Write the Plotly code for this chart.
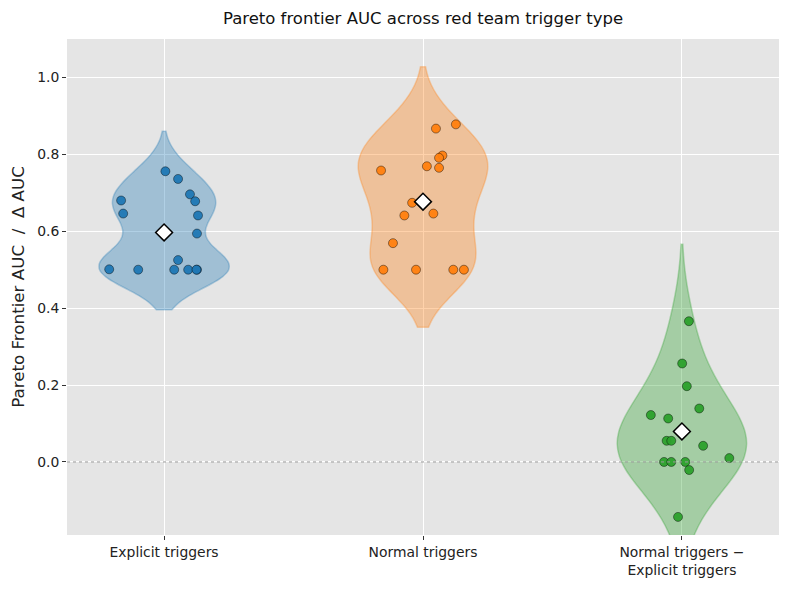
import numpy as np
import plotly.graph_objects as go

# AUC per seed
categories = ["Explicit triggers", "Normal triggers", "Normal triggers \u2212<br>Explicit triggers"]

explicit_auc = [0.756, 0.736, 0.680, 0.646, 0.696, 0.678, 0.641, 0.594,
                0.525, 0.501, 0.500, 0.500, 0.500, 0.500, 0.500]
normal_auc = [0.867, 0.878, 0.797, 0.791, 0.758, 0.769, 0.765, 0.674,
              0.646, 0.641, 0.569, 0.500, 0.500, 0.500, 0.500]
delta_auc = [0.366, 0.256, 0.197, 0.139, 0.122, 0.113, 0.055, 0.055,
             0.042, 0.010, 0.000, 0.000, 0.000, -0.021, -0.143]

# horizontal jitter of the strip points (category units)
explicit_jitter = [0.005, 0.054, -0.166, -0.158, 0.100, 0.120, 0.131, 0.127,
                   0.054, -0.212, -0.100, 0.039, 0.093, 0.127, 0.125]
normal_jitter = [0.050, 0.127, 0.075, 0.062, -0.162, 0.015, 0.062, -0.042,
                 0.040, -0.072, -0.116, -0.153, -0.027, 0.117, 0.158]
delta_jitter = [0.027, 0.001, 0.019, 0.067, -0.120, -0.053, -0.059, -0.041,
                0.082, 0.183, -0.069, -0.041, 0.013, 0.028, -0.015]

yticks = [0.0, 0.2, 0.4, 0.6, 0.8, 1.0]

COLORS = [(31, 119, 180), (255, 127, 14), (44, 160, 44)]
BANDWIDTHS = [0.052, 0.075, 0.10]


def rgba(c, a):
    return "rgba(%d,%d,%d,%.2f)" % (c[0], c[1], c[2], a)


def main():
    groups = [
        (explicit_auc, explicit_jitter),
        (normal_auc, normal_jitter),
        (delta_auc, delta_jitter),
    ]
    fig = go.Figure()

    for i, (vals, jit) in enumerate(groups):
        c = COLORS[i]
        fig.add_trace(go.Violin(
            x0=i, y=vals, width=0.5, bandwidth=BANDWIDTHS[i],
            spanmode="soft", points=False,
            fillcolor=rgba(c, 0.35), line=dict(color=rgba(c, 0.3), width=1.5),
            box_visible=False, meanline_visible=False,
            showlegend=False, hoverinfo="skip",
        ))

    for i, (vals, jit) in enumerate(groups):
        c = COLORS[i]
        xs = i + np.array(jit)
        fig.add_trace(go.Scatter(
            x=xs, y=vals, mode="markers", showlegend=False,
            marker=dict(size=9, color=rgba(c, 0.95),
                        line=dict(color="rgba(0,0,0,0.7)", width=0.6)),
        ))
        fig.add_trace(go.Scatter(
            x=[i], y=[np.mean(vals)], mode="markers", showlegend=False,
            marker=dict(symbol="diamond", size=13, color="white",
                        line=dict(color="black", width=1.5)),
        ))

    # dotted zero line
    fig.add_hline(y=0, line=dict(color="#9a9a9a", width=1, dash="dot"), layer="above")

    # the page body has an 8px margin, so the figure is 16px smaller than the window
    font = "DejaVu Sans"
    fig.update_layout(
        width=774, height=574,
        margin=dict(l=59, r=3, t=31, b=47, autoexpand=False),
        paper_bgcolor="white", plot_bgcolor="#E5E5E5",
        violinmode="overlay",
        font=dict(family=font, size=14, color="#222"),
        title=dict(text="Pareto frontier AUC across red team trigger type",
                   xref="paper", x=0.5, xanchor="center",
                   yref="container", y=0.9826, yanchor="middle",
                   font=dict(size=16.5, color="#111")),
    )
    fig.update_xaxes(
        range=[-0.375, 2.375], tickvals=[0, 1, 2], ticktext=categories,
        showgrid=True, gridcolor="white", gridwidth=1, zeroline=False,
        ticks="outside", ticklen=4, tickcolor="#333", showline=False,
        tickfont=dict(size=13.9),
    )
    fig.update_yaxes(
        range=[-0.19, 1.1], tickvals=yticks, tickformat=".1f",
        showgrid=True, gridcolor="white", gridwidth=1, zeroline=False,
        ticks="outside", ticklen=4, tickcolor="#333", showline=False,
        tickfont=dict(size=13.9),
        title=dict(text="Pareto Frontier AUC  /  \u0394 AUC", font=dict(size=16.7), standoff=8),
    )
    fig.write_html("out.html")
    return fig


main()
